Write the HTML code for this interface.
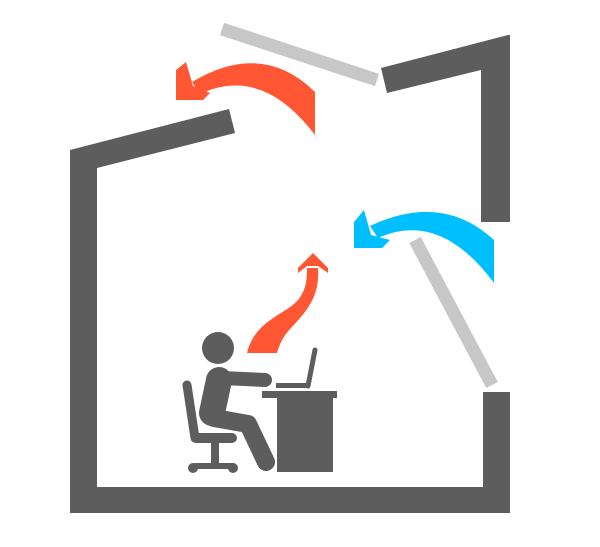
<!DOCTYPE html>
<html><head><meta charset="utf-8"><style>html,body{margin:0;padding:0;background:#fff}</style></head>
<body>
<svg width="600" height="542" viewBox="0 0 600 542" xmlns="http://www.w3.org/2000/svg">
<g fill="#5d5d5d">
<polygon points="70,150 229,109 235,133 97,168 97,487 483,487 483,392 510,392 510,513 70,513"/>
<polygon points="381,68 508,35 510,35 510,222 481,222 481,70 387,93"/>
</g>
<g stroke="#c6c7c6" stroke-width="13">
<line x1="222" y1="29" x2="377" y2="80"/>
<line x1="415" y1="240" x2="492" y2="385"/>
</g>
<g fill="#ff5733">
<path d="M315,92 Q262,40 192,82 L200,94 Q262,65 315,135 Z"/>
<polygon points="176,70 186,62 193,86 210,93 203,100 176,100"/>
<path d="M247,353 C255,320 285,315 298,300 C306,290 307,280 307,268 L318,268 C319,285 316,300 300,318 C290,330 282,335 277,353 Z"/>
<polygon points="313,253 298,268 298,273 307,266 318,266 328,273 328,268"/>
</g>
<g fill="#00bfff">
<path d="M494,240 Q442,192 370,226 L378,238 Q440,210 494,283 Z"/>
<polygon points="354,222 364,210 371,235 390,240 382,248 354,248"/>
</g>
<g stroke="#5d5d5d" stroke-linecap="round" fill="none">
<line x1="219" y1="380" x2="212" y2="413" stroke-width="26"/>
<line x1="222" y1="378" x2="265" y2="380" stroke-width="14"/>
<polyline points="214,418 248,424 266,462" stroke-width="18" stroke-linejoin="round"/>
<line x1="187" y1="385" x2="195" y2="438" stroke-width="9"/>
<line x1="196" y1="438" x2="232" y2="438" stroke-width="10"/>
<line x1="215" y1="440" x2="215" y2="464" stroke-width="8"/>
<line x1="195" y1="466" x2="233" y2="466" stroke-width="6"/>
<line x1="315" y1="350" x2="308" y2="386" stroke-width="5"/>
</g>
<g fill="#5d5d5d">
<circle cx="218" cy="348" r="16"/>
<circle cx="193" cy="468" r="5"/><circle cx="233" cy="468" r="5"/>
<rect x="276" y="383" width="33" height="5"/>
<rect x="262" y="391" width="75" height="7"/>
<rect x="277" y="398" width="56" height="74"/>
</g>
</svg>
</body></html>
